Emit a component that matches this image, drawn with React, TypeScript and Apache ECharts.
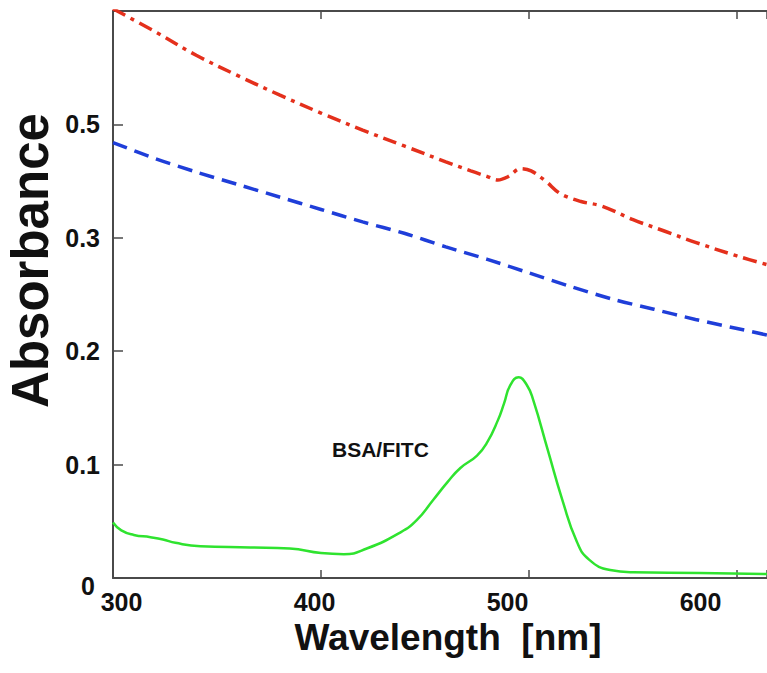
import React, { useEffect, useRef } from "react";
import * as echarts from "echarts";

// Tick labels
const xTickLabels = [300, 400, 500, 600];
const yTickLabels = ["0", "0.1", "0.2", "0.3", "0.5", ""];

// Red (dash-dot) curve
const redNm = [300, 320, 340, 360, 380, 400, 420, 440, 460, 472, 480, 485, 490, 496, 501, 508, 515, 525, 535, 550, 565, 580, 600, 615];
const redAbs = [0.502, 0.482, 0.461, 0.443, 0.426, 0.41, 0.395, 0.381, 0.367, 0.359, 0.354, 0.351, 0.354, 0.361, 0.359, 0.35, 0.339, 0.332, 0.328, 0.316, 0.306, 0.296, 0.284, 0.276];

// Blue (dashed) curve
const blueNm = [300, 320, 340, 360, 380, 400, 420, 440, 460, 480, 500, 520, 540, 560, 580, 600, 615];
const blueAbs = [0.384, 0.37, 0.358, 0.347, 0.336, 0.325, 0.314, 0.304, 0.292, 0.281, 0.269, 0.257, 0.246, 0.237, 0.228, 0.22, 0.214];

// Green (solid) curve: BSA/FITC
const greenNm = [300, 304, 310, 318, 324, 330, 342, 366, 385, 400, 411, 422, 438, 446, 454, 461, 467, 475, 480, 485, 488, 491, 495, 499, 502, 509, 516, 523, 529, 539, 550, 582, 615];
const greenAbs = [0.049, 0.042, 0.038, 0.036, 0.034, 0.031, 0.028, 0.027, 0.026, 0.022, 0.021, 0.026, 0.04, 0.051, 0.069, 0.085, 0.097, 0.108, 0.12, 0.139, 0.154, 0.17, 0.177, 0.17, 0.157, 0.113, 0.069, 0.032, 0.016, 0.007, 0.005, 0.0045, 0.0035];

const FONT = "'Liberation Sans', Arial, Helvetica, sans-serif";
const AXIS_COLOR = "#4a4a4a";
const TEXT_COLOR = "#111";

const pairs = (xs: number[], ys: number[]) => xs.map((x, i) => [x, ys[i]]);

export default function App() {
  const ref = useRef<HTMLDivElement>(null);

  useEffect(() => {
    const chart = echarts.init(ref.current!, null, { renderer: "svg" });
    const axisLine = { show: true, onZero: false, lineStyle: { color: AXIS_COLOR, width: 2 } };
    chart.setOption({
      animation: false,
      backgroundColor: "#fff",
      grid: { left: 113, right: 0, top: 11, bottom: 95, containLabel: false, outerBoundsMode: "none" },
      xAxis: [
        {
          type: "value",
          position: "bottom",
          min: 300,
          max: 614.4,
          interval: 100,
          axisLine,
          axisTick: { show: true, inside: true, length: 8, lineStyle: { color: AXIS_COLOR, width: 1.5 } },
          axisLabel: { show: false },
          splitLine: { show: false },
        },
        {
          type: "value",
          position: "top",
          min: 300,
          max: 614.4,
          interval: 100,
          axisLine,
          axisTick: { show: true, inside: true, length: 8, lineStyle: { color: AXIS_COLOR, width: 1.5 } },
          axisLabel: { show: false },
          splitLine: { show: false },
        },
        {
          type: "value",
          position: "bottom",
          min: 295.6,
          max: 634.46,
          axisLine: { show: false, onZero: false },
          axisTick: { show: false },
          splitLine: { show: false },
          axisLabel: {
            show: true,
            customValues: xTickLabels,
            margin: 11,
            fontSize: 25,
            fontWeight: "bold",
            fontFamily: FONT,
            color: TEXT_COLOR,
          },
          name: "Wavelength  [nm]",
          nameLocation: "middle",
          nameGap: 41,
          nameMoveOverlap: false,
          nameTextStyle: {
            fontSize: 37,
            fontWeight: "bold",
            fontFamily: FONT,
            color: TEXT_COLOR,
            padding: [0, 0, 0, 16],
          },
        },
      ],
      yAxis: {
        type: "value",
        position: "left",
        min: 0,
        max: 0.5,
        interval: 0.1,
        axisLine,
        axisTick: { show: true, inside: true, length: 10, lineStyle: { color: AXIS_COLOR, width: 1.5 } },
        splitLine: { show: false },
        axisLabel: {
          margin: 13,
          fontSize: 25,
          fontWeight: "bold",
          fontFamily: FONT,
          color: TEXT_COLOR,
          formatter: (v: number) => {
            const i = Math.round(v * 10);
            return i === 0 ? "{z|0}" : yTickLabels[i] ?? "";
          },
          rich: {
            z: {
              fontSize: 25,
              fontWeight: "bold",
              fontFamily: FONT,
              color: TEXT_COLOR,
              padding: [16, 5, 0, 0],
            },
          },
        },
        name: "Absorbance",
        nameLocation: "middle",
        nameRotate: 90,
        nameGap: 57,
        nameMoveOverlap: false,
        nameTextStyle: {
          fontSize: 51,
          fontWeight: "bold",
          fontFamily: FONT,
          color: TEXT_COLOR,
          padding: [0, 0, 0, 68],
        },
      },
      graphic: [
        {
          type: "text",
          left: 332,
          top: 439,
          style: { text: "BSA/FITC", fontSize: 21, fontWeight: "bold", fontFamily: FONT, fill: TEXT_COLOR },
        },
      ],
      series: [
        {
          type: "line",
          data: pairs(redNm, redAbs),
          showSymbol: false,
          smooth: 0.35,
          clip: true,
          lineStyle: { color: "#e4301c", width: 3.5, type: [14, 6, 4, 6] },
        },
        {
          type: "line",
          data: pairs(blueNm, blueAbs),
          showSymbol: false,
          smooth: 0.3,
          clip: true,
          lineStyle: { color: "#1f3ed9", width: 3.5, type: [15, 8] },
        },
        {
          type: "line",
          data: pairs(greenNm, greenAbs),
          showSymbol: false,
          smooth: 0.5,
          clip: true,
          lineStyle: { color: "#2fe32f", width: 2.5, type: "solid" },
        },
      ],
    });
    return () => chart.dispose();
  }, []);

  return (
    <div
      ref={ref}
      style={{ position: "fixed", left: 0, top: 0, width: 767, height: 673, background: "#fff" }}
    />
  );
}
